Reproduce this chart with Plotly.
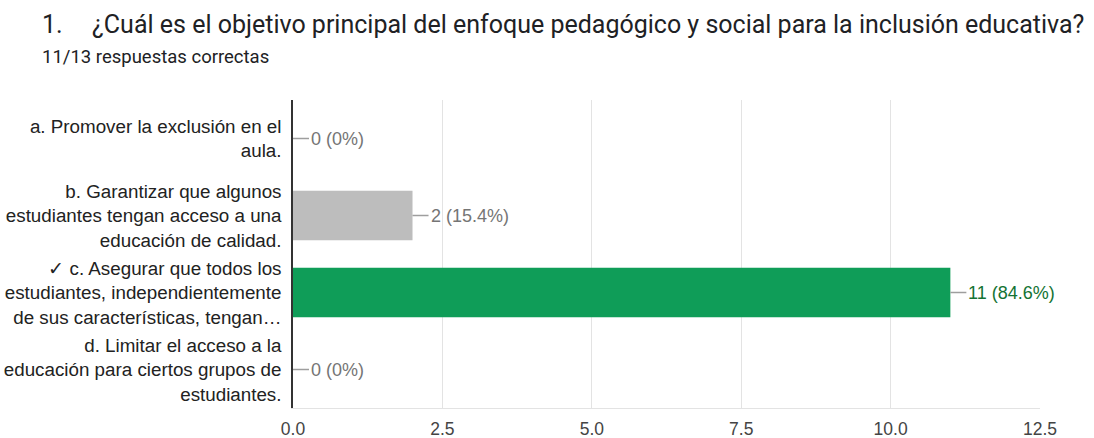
import plotly.graph_objects as go

categories = [
    "a. Promover la exclusión en el<br>aula.",
    "b. Garantizar que algunos<br>estudiantes tengan acceso a una<br>educación de calidad.",
    "✓ c. Asegurar que todos los<br>estudiantes, independientemente<br>de sus características, tengan…",
    "d. Limitar el acceso a la<br>educación para ciertos grupos de<br>estudiantes.",
]
values = [0, 2, 11, 0]
percents = ["0%", "15.4%", "84.6%", "0%"]
bar_colors = ["#bdbdbd", "#bdbdbd", "#0f9d58", "#bdbdbd"]
label_colors = ["#757575", "#757575", "#137333", "#757575"]
title_num = "1."
title_text = "¿Cuál es el objetivo principal del enfoque pedagógico y social para la inclusión educativa?"
subtitle = "11/13 respuestas correctas"
x_ticks = [0, 2.5, 5, 7.5, 10, 12.5]

LABEL_FONT = "Liberation Sans, Arial, sans-serif"
TITLE_FONT = "Roboto, sans-serif"

fig = go.Figure(
    go.Bar(
        y=categories,
        x=values,
        orientation="h",
        marker=dict(color=bar_colors, line=dict(width=0)),
        hoverinfo="skip",
    )
)

for cat, v, p, c in zip(categories, values, percents, label_colors):
    fig.add_annotation(
        x=v, y=cat, xref="x", yref="y",
        text=f"{v} ({p})",
        showarrow=True, arrowhead=0, arrowwidth=1.5, arrowcolor="#9e9e9e",
        ax=16, ay=0, standoff=0, startstandoff=0,
        xanchor="left", yanchor="middle",
        font=dict(family=LABEL_FONT, size=18, color=c),
    )

W, H = 1094, 438
L, R, T, B = 293, 54, 100, 30
plot_w = W - L - R

fig.update_layout(
    width=W, height=H,
    margin=dict(l=L, r=R, t=T, b=B),
    paper_bgcolor="white", plot_bgcolor="white",
    showlegend=False,
    bargap=0.36,
    xaxis=dict(
        range=[0, 12.5], tickvals=x_ticks,
        ticktext=[f"{t:.1f}" for t in x_ticks],
        showgrid=True, gridcolor="#e3e3e3", gridwidth=1.3,
        zeroline=False, showline=True, linecolor="#e3e3e3", linewidth=1.3,
        tickfont=dict(family=LABEL_FONT, size=17.5, color="#444444"),
        ticks="", ticklabelstandoff=5,
        automargin=False, fixedrange=True,
    ),
    yaxis=dict(
        autorange="reversed",
        showline=True, linecolor="#333333", linewidth=1.5,
        showgrid=False, zeroline=False, ticks="",
        tickfont=dict(family=LABEL_FONT, size=18.8, color="#222222"),
        ticklabelstandoff=6,
        automargin=False, fixedrange=True,
    ),
)

x0 = (40 - L) / plot_w
x1 = (90 - L) / plot_w
fig.add_annotation(
    x=x0, y=1, xref="paper", yref="paper", yshift=76, xanchor="left", yanchor="middle",
    text=title_num, showarrow=False,
    font=dict(family=TITLE_FONT, size=25, color="#202124"),
)
fig.add_annotation(
    x=x1, y=1, xref="paper", yref="paper", yshift=76, xanchor="left", yanchor="middle",
    text=title_text, showarrow=False,
    font=dict(family=TITLE_FONT, size=25, color="#202124"),
)
fig.add_annotation(
    x=x0, y=1, xref="paper", yref="paper", yshift=43, xanchor="left", yanchor="middle",
    text=subtitle, showarrow=False,
    font=dict(family=TITLE_FONT, size=18.5, color="#202124"),
)

fig.write_html(
    "out.html",
    config={"displayModeBar": False},
    post_script="document.body.style.margin='0';document.body.style.overflow='hidden';",
)
